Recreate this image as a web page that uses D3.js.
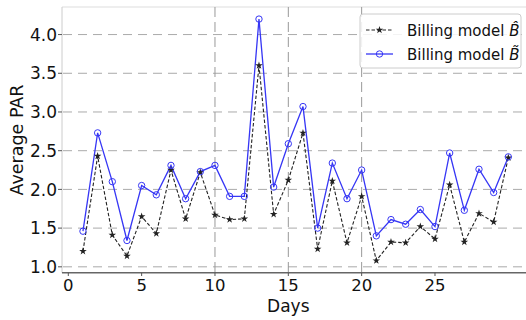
<!DOCTYPE html>
<html>
<head>
  <meta charset="utf-8">
  <script src="https://cdn.jsdelivr.net/npm/d3@7"></script>
  <style>
    body { margin: 0; background: #fff; }
    svg text { font-family: "DejaVu Sans", sans-serif; fill: #111; }
  </style>
</head>
<body>
<script>
  // data
  var days = d3.range(1, 31);
  var hatB = [1.20, 2.43, 1.41, 1.14, 1.65, 1.43, 2.25, 1.62, 2.22, 1.67,
              1.61, 1.62, 3.60, 1.68, 2.12, 2.73, 1.23, 2.11, 1.31, 1.91,
              1.08, 1.32, 1.31, 1.52, 1.36, 2.06, 1.32, 1.69, 1.58, 2.41];
  var tildeB = [1.46, 2.73, 2.10, 1.34, 2.05, 1.93, 2.31, 1.88, 2.23, 2.31,
                1.91, 1.91, 4.20, 2.03, 2.59, 3.07, 1.50, 2.34, 1.88, 2.25,
                1.40, 1.61, 1.55, 1.74, 1.52, 2.47, 1.73, 2.26, 1.96, 2.42];
  var xTicks = [0, 5, 10, 15, 20, 25];
  var yTicks = [1.0, 1.5, 2.0, 2.5, 3.0, 3.5, 4.0];
  var xGrid = [10, 15, 20];

  var W = 526, H = 320;
  var svg = d3.select("body").append("svg")
    .attr("width", W).attr("height", H);

  var x = d3.scaleLinear().domain([-0.45, 31.45]).range([61.7, 529.6]);
  var y = d3.scaleLinear().domain([0.924, 4.356]).range([272.7, 7]);

  // frame
  svg.append("line").attr("x1", 62).attr("x2", W).attr("y1", 7).attr("y2", 7)
    .attr("stroke", "#ddd").attr("stroke-width", 1);
  svg.append("line").attr("x1", 62).attr("x2", 62).attr("y1", 7).attr("y2", 272.7)
    .attr("stroke", "#ccc").attr("stroke-width", 1);

  // grid
  svg.selectAll(".hgrid").data(yTicks).enter().append("line")
    .attr("x1", 63).attr("x2", W)
    .attr("y1", function(d) { return y(d); })
    .attr("y2", function(d) { return y(d); })
    .attr("stroke", "#aaa").attr("stroke-width", 1)
    .attr("stroke-dasharray", "9,6");
  svg.selectAll(".vgrid").data(xGrid).enter().append("line")
    .attr("x1", function(d) { return x(d); })
    .attr("x2", function(d) { return x(d); })
    .attr("y1", 7).attr("y2", 272)
    .attr("stroke", "#999").attr("stroke-width", 1)
    .attr("stroke-dasharray", "10,5");

  // bottom spine
  svg.append("line").attr("x1", 62).attr("x2", W).attr("y1", 272.7).attr("y2", 272.7)
    .attr("stroke", "#666").attr("stroke-width", 1.5);

  // y ticks
  var yt = svg.selectAll(".yt").data(yTicks).enter().append("g")
    .attr("transform", function(d) { return "translate(0," + y(d) + ")"; });
  yt.append("line").attr("x1", 58).attr("x2", 62).attr("stroke", "#555");
  yt.append("text").attr("x", 57).attr("dy", "0.36em")
    .attr("text-anchor", "end").style("font-size", "17px")
    .text(function(d) { return d3.format(".1f")(d); });

  // x ticks
  var xt = svg.selectAll(".xt").data(xTicks).enter().append("g")
    .attr("transform", function(d) { return "translate(" + x(d) + ",0)"; });
  xt.append("line").attr("y1", 272.7).attr("y2", 276).attr("stroke", "#555");
  xt.append("text").attr("y", 291).attr("text-anchor", "middle")
    .style("font-size", "16.5px")
    .text(function(d) { return d; });

  // axis titles
  svg.append("text").attr("x", x(15)).attr("y", 312)
    .attr("text-anchor", "middle").style("font-size", "17px").text("Days");
  svg.append("text")
    .attr("transform", "translate(23,140) rotate(-90)")
    .attr("text-anchor", "middle").style("font-size", "17.5px").text("Average PAR");

  // series
  var line = d3.line()
    .x(function(d, i) { return x(days[i]); })
    .y(function(d) { return y(d); });

  svg.append("path").datum(hatB).attr("d", line)
    .attr("fill", "none").attr("stroke", "#222").attr("stroke-width", 1.1)
    .attr("stroke-dasharray", "3.5,2");
  svg.append("path").datum(tildeB).attr("d", line)
    .attr("fill", "none").attr("stroke", "#3636f5").attr("stroke-width", 1.3);

  var star = d3.symbol().type(d3.symbolStar).size(18);
  svg.selectAll(".st").data(hatB).enter().append("path")
    .attr("d", star)
    .attr("transform", function(d, i) { return "translate(" + x(days[i]) + "," + y(d) + ")"; })
    .attr("fill", "#222");
  svg.selectAll(".ci").data(tildeB).enter().append("circle")
    .attr("cx", function(d, i) { return x(days[i]); })
    .attr("cy", function(d) { return y(d); })
    .attr("r", 3.2)
    .attr("fill", "none").attr("stroke", "#3636f5").attr("stroke-width", 1);

  // legend
  var lg = svg.append("g");
  lg.append("rect").attr("x", 360).attr("y", 14).attr("width", 161).attr("height", 54)
    .attr("rx", 3).attr("fill", "rgba(255,255,255,0.85)")
    .attr("stroke", "#ccc").attr("stroke-width", 1);

  lg.append("line").attr("x1", 366).attr("x2", 393).attr("y1", 30).attr("y2", 30)
    .attr("stroke", "#222").attr("stroke-width", 1.1).attr("stroke-dasharray", "3.5,2");
  lg.append("path").attr("d", star).attr("transform", "translate(379.5,30)").attr("fill", "#222");
  lg.append("line").attr("x1", 366).attr("x2", 393).attr("y1", 54).attr("y2", 54)
    .attr("stroke", "#3636f5").attr("stroke-width", 1.3);
  lg.append("circle").attr("cx", 379.5).attr("cy", 54).attr("r", 3.2)
    .attr("fill", "none").attr("stroke", "#3636f5");

  var t1 = lg.append("text").attr("x", 407).attr("y", 36).style("font-size", "15px");
  t1.append("tspan").text("Billing model ");
  t1.append("tspan").style("font-style", "italic").text("B\u0302");
  var t2 = lg.append("text").attr("x", 407).attr("y", 60).style("font-size", "15px");
  t2.append("tspan").text("Billing model ");
  t2.append("tspan").style("font-style", "italic").text("B\u0303");
</script>
</body>
</html>
